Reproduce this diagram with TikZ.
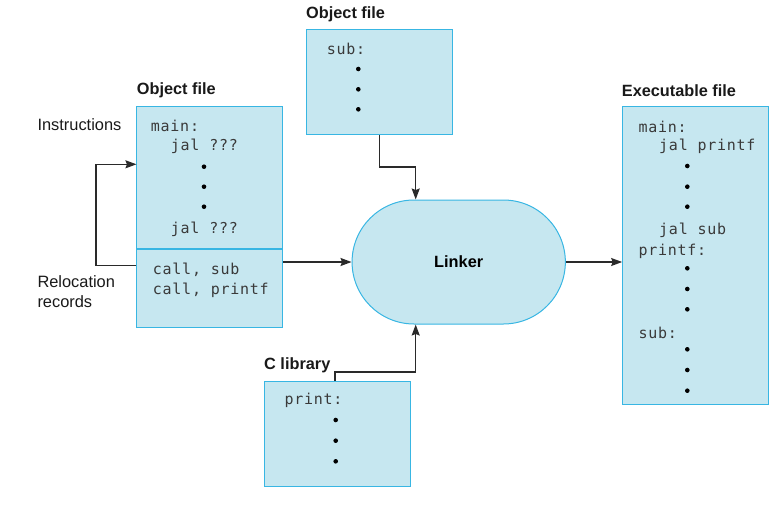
\documentclass[tikz,border=0pt]{standalone}
\usepackage{fontspec}
\setmainfont{Liberation Sans}
\newfontfamily\codefont[LetterSpace=5]{DejaVu Sans Mono}
\usepackage{xcolor}
\usepackage{tikz}
\usetikzlibrary{positioning,shapes.misc,arrows.meta}

\definecolor{filefill}{HTML}{C6E7F0}
\definecolor{fileline}{HTML}{38B6E3}
\definecolor{codegray}{HTML}{3A3A3A}
\definecolor{wiregray}{HTML}{2A2A2A}

\tikzset{
  filebox/.style={draw=fileline, fill=filefill, line width=1pt, inner sep=0pt,
    minimum width=145.7pt},
  code/.style={anchor=west, inner sep=0pt, text=codegray,
    font=\codefont\fontsize{15}{15}\selectfont},
  title/.style={anchor=west, inner sep=0pt, text=black!90,
    font=\bfseries\fontsize{16.3}{16.3}\selectfont},
  side/.style={anchor=west, inner sep=0pt, text=black!90, align=left,
    font=\fontsize{16.4}{20}\selectfont},
  conn/.style={draw=wiregray, line width=1.5pt,
    -{Stealth[length=11pt,width=8pt,inset=1.5pt]}},
}

\begin{document}
\begin{tikzpicture}[x=1pt, y=-1pt]
  \useasboundingbox (0,0) rectangle (783,524);

  % the four files
  \node[filebox, minimum height=141.6pt] (instr) at (209.8,177.5) {};
  \node[filebox, minimum height=78.4pt, below=0pt of instr] (reloc) {};
  \node[filebox, minimum height=104.7pt] (objsub) at (379.3,82.3) {};
  \node[filebox, minimum height=104.7pt] (clib) at (337.7,433.7) {};
  \node[filebox, minimum height=297.3pt] (exec) at (695.5,255.4) {};

  % the linker
  \node[rounded rectangle, draw=fileline, fill=filefill, line width=1pt,
    minimum width=213.3pt, minimum height=124pt, inner sep=0pt,
    font=\bfseries\fontsize{16.3}{16.3}\selectfont] (linker) at (458.7,262) {Linker};

  % titles
  \node[title] (titleobj) at (136.7,90.7) {Object file};
  \node[title] (titlesub) at (306,14) {Object file};
  \node[title] (titleexe) at (621.7,90.7) {Executable file};
  \node[title] (titlelib) at (264,365) {C library};
  \node[side] (instrlabel) at (37.3,125) {Instructions};
  \node[side] (reloclabel) at (37.3,292) {Relocation\\records};

  % code of main
  \node[code] (mainA) at (150.7,125.7) {main:};
  \node[code] (jalA) at (170.7,146.7) {jal ???};
  \node[code] (jalB) at (170.7,229.3) {jal ???};
  \node[code] (callsub) at (152.7,270) {call, sub};
  \node[code] (callpr) at (152.7,290) {call, printf};
  \foreach \y in {166.7,186.7,206.7}
    \fill[black] (204,\y) circle[radius=2.3pt];

  % code of sub
  \node[code] (subA) at (326.7,49.3) {sub:};
  \foreach \y in {69,89.3,109.3}
    \fill[black] (358.3,\y) circle[radius=2.3pt];

  % code of the library
  \node[code] (printA) at (284.3,400) {print:};
  \foreach \y in {420,440.7,461.3}
    \fill[black] (335.7,\y) circle[radius=2.3pt];

  % code of the executable
  \node[code] (mainE) at (638.3,126.7) {main:};
  \node[code] (jalprE) at (659,146.7) {jal printf};
  \node[code] (jalsubE) at (659,230) {jal sub};
  \node[code] (printfE) at (638.3,251.7) {printf:};
  \node[code] (subE) at (638.3,333.3) {sub:};
  \foreach \y in {166,186.7,206.7,268.3,289,309.3,349.3,370,390.7}
    \fill[black] (687.3,\y) circle[radius=2.3pt];

  % connectors
  \draw[conn] ([yshift=23.2pt]reloc.west) -- ++(-40.3,0) |- ([yshift=13.2pt]instr.west);
  \draw[conn] (reloc.east |- linker.west) -- (linker.west);
  \draw[conn] (objsub.south) -- ++(0,32) -| ([xshift=-43pt]linker.north);
  \draw[conn] ([xshift=-2.7pt]clib.north) -- ++(0,-9) -| ([xshift=-43pt]linker.south);
  \draw[conn] (linker.east) -- (linker.east -| exec.west);
\end{tikzpicture}
\end{document}
